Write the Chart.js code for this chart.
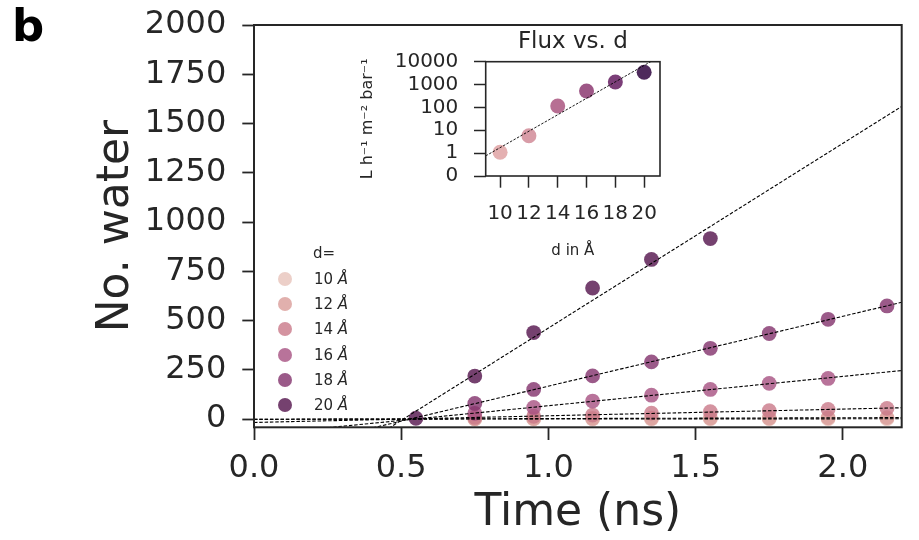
<!DOCTYPE html>
<html>
<head>
<meta charset="utf-8">
<script src="https://cdn.jsdelivr.net/npm/chart.js@4.4.1/dist/chart.umd.min.js"></script>
<style>
html,body{margin:0;padding:0;background:#fff;}
#wrap{position:relative;width:919px;height:540px;overflow:hidden;font-family:"DejaVu Sans",sans-serif;color:#262626;background:#fff;}
#main{position:absolute;left:0;top:0;}
#inset{position:absolute;left:340px;top:20px;}
#panel{position:absolute;left:12px;top:3px;font:bold 45px/45px "DejaVu Sans",sans-serif;color:#000;}
.lg{position:absolute;font:15px/18px "DejaVu Sans",sans-serif;color:#262626;white-space:nowrap;}
.dot{position:absolute;width:14px;height:14px;border-radius:50%;}
</style>
</head>
<body>
<div id="wrap">
  <canvas id="main" width="919" height="540"></canvas>
  <canvas id="inset" width="340" height="250"></canvas>
  <div id="panel">b</div>
  <div id="legend"></div>
</div>
<script>
// ---------------- data ----------------
const times = [0.55, 0.75, 0.95, 1.15, 1.35, 1.55, 1.75, 1.95, 2.15];
const poreSizes = [10, 12, 14, 16, 18, 20];
const water10 = [null, 0, 0, 0, 0, 1, 1, 1, 1];
const water12 = [null, 1, 2, 3, 4, 5, 5, 6, 7];
const water14 = [null, 8, 14, 20, 30, 37, 42, 49, 54];
const water16 = [null, 29, 59, 91, 121, 150, 181, 206, null];
const water18 = [null, 79, 150, 219, 290, 359, 434, 506, 574];
const water20 = [4, 218, 439, 665, 810, 916, null, null, null];
const waterTicks = [0, 250, 500, 750, 1000, 1250, 1500, 1750, 2000];
const timeTicks = [0, 0.5, 1.0, 1.5, 2.0];
const timeRange = [0, 2.2];
const waterRange = [-42, 2000];

const flux = [1.1, 5.8, 115, 525, 1290, 3450];
const fluxTicks = [0, 1, 10, 100, 1000, 10000];
const dTicks = [10, 12, 14, 16, 18, 20];
const dRange = [9, 21.1];

// ---------------- styles ----------------
const mainColors = ['rgba(231,195,186,0.8)','rgba(217,156,153,0.8)','rgba(201,120,136,0.8)',
                    'rgba(166,80,129,0.8)','rgba(130,49,107,0.8)','rgba(82,18,75,0.8)'];
const insetColors = ['#e4b0b1','#d89ca7','#b76f93','#9d5686','#7b3e78','#4e2a5c'];
const INK = '#262626';

Chart.defaults.font.family = '"DejaVu Sans", sans-serif';
Chart.defaults.color = INK;
Chart.defaults.animation = false;

const series = [water10, water12, water14, water16, water18, water20];

function fit(xs, ys) {
  const n = xs.length;
  const mx = xs.reduce((a, b) => a + b, 0) / n;
  const my = ys.reduce((a, b) => a + b, 0) / n;
  let sxy = 0, sxx = 0;
  for (let i = 0; i < n; i++) { sxy += (xs[i] - mx) * (ys[i] - my); sxx += (xs[i] - mx) ** 2; }
  const m = sxy / sxx;
  return { m, b: my - m * mx };
}
const symlog = v => (v < 1 ? v : 1 + Math.log10(v));
const noPad = s => { s.paddingTop = 0; s.paddingBottom = 0; s.paddingLeft = 0; s.paddingRight = 0; };

const frame = {
  id: 'frame',
  afterDatasetsDraw(c, args, opts) {
    const { ctx, chartArea: a } = c;
    ctx.save();
    ctx.strokeStyle = INK;
    ctx.lineWidth = opts.width;
    ctx.strokeRect(a.left, a.top, a.right - a.left, a.bottom - a.top);
    ctx.restore();
  }
};

// ---------------- main chart ----------------
const mainDatasets = [];
series.forEach((ys, i) => {
  const pts = [];
  times.forEach((t, j) => { if (ys[j] !== null) pts.push({ x: t, y: ys[j] }); });
  mainDatasets.push({
    label: poreSizes[i] + ' Å', data: pts, backgroundColor: mainColors[i],
    pointBackgroundColor: mainColors[i], pointBorderWidth: 0, pointRadius: 7.4,
    pointHoverRadius: 7.4, showLine: false, order: 10 - i
  });
  const f = fit(pts.map(p => p.x), pts.map(p => p.y));
  mainDatasets.push({
    label: 'fit ' + poreSizes[i],
    data: timeRange.map(x => ({ x, y: f.b + f.m * x })),
    showLine: true, borderColor: '#000', borderWidth: 1.1, borderDash: [3.5, 1.8],
    pointRadius: 0, fill: false, order: 0
  });
});

new Chart(document.getElementById('main'), {
  type: 'scatter',
  data: { datasets: mainDatasets },
  options: {
    responsive: false, animation: false,
    layout: { padding: { left: 0, top: 25, right: 17.3, bottom: 0 } },
    plugins: { legend: { display: false }, tooltip: { enabled: false }, frame: { width: 2 } },
    scales: {
      x: {
        type: 'linear', min: timeRange[0], max: timeRange[1],
        afterBuildTicks: s => { s.ticks = timeTicks.map(v => ({ value: v })); },
        afterFit: s => { s.height = 112.7; noPad(s); },
        ticks: { font: { size: 32 }, color: INK, padding: 9, maxRotation: 0, autoSkip: false, callback: v => Number(v).toFixed(1) },
        grid: { display: true, drawOnChartArea: false, drawTicks: true, tickLength: 12.7, tickColor: INK, tickWidth: 1.8 },
        border: { display: false },
        title: { display: true, text: 'Time (ns)', font: { size: 44 }, color: INK, padding: { top: 0, bottom: 0 } }
      },
      y: {
        type: 'linear', min: waterRange[0], max: waterRange[1],
        afterBuildTicks: s => { s.ticks = waterTicks.map(v => ({ value: v })); },
        afterFit: s => { s.width = 254; noPad(s); },
        ticks: { font: { size: 32 }, color: INK, padding: 16, autoSkip: false, callback: v => String(v) },
        grid: { display: true, drawOnChartArea: false, drawTicks: true, tickLength: 11.7, tickColor: INK, tickWidth: 1.8 },
        border: { display: false },
        title: { display: true, text: 'No. water', font: { size: 44 }, color: INK, padding: { top: 90, bottom: 0 } }
      }
    }
  },
  plugins: [frame]
});

// ---------------- inset ----------------
const insetPos = flux.map(symlog);
const insetDatasets = poreSizes.map((d, i) => ({
  label: d + ' Å', data: [{ x: d, y: insetPos[i] }],
  pointBackgroundColor: insetColors[i], backgroundColor: insetColors[i],
  pointBorderWidth: 0, pointRadius: 7.5, pointHoverRadius: 7.5, showLine: false, order: 1
}));
const fi = fit(poreSizes, insetPos);
insetDatasets.push({
  label: 'fit', data: dRange.map(x => ({ x, y: fi.b + fi.m * x })),
  showLine: true, borderColor: '#000', borderWidth: 0.9, borderDash: [2.5, 1.5],
  pointRadius: 0, fill: false, order: 0
});
const fluxTickPos = fluxTicks.map(symlog);

new Chart(document.getElementById('inset'), {
  type: 'scatter',
  data: { datasets: insetDatasets },
  options: {
    responsive: false, animation: false,
    layout: { padding: { left: 0, top: 0, right: 20, bottom: 0 } },
    plugins: {
      legend: { display: false }, tooltip: { enabled: false }, frame: { width: 1.6 },
      title: { display: true, text: 'Flux vs. d', fullSize: false, color: INK, font: { size: 23, weight: 'normal' }, padding: { top: 8.6, bottom: 5.5 } }
    },
    scales: {
      x: {
        type: 'linear', min: dRange[0], max: dRange[1],
        afterBuildTicks: s => { s.ticks = dTicks.map(v => ({ value: v })); },
        afterFit: s => { s.height = 94; noPad(s); },
        ticks: { font: { size: 20 }, color: INK, padding: 13.7, maxRotation: 0, autoSkip: false, callback: v => String(v) },
        grid: { display: true, drawOnChartArea: false, drawTicks: true, tickLength: 11.7, tickColor: INK, tickWidth: 1.5 },
        border: { display: false },
        title: { display: true, text: 'd in Å', font: { size: 15 }, color: INK, padding: { top: 0, bottom: 9.5 } }
      },
      y: {
        type: 'linear', min: fluxTickPos[0], max: fluxTickPos[fluxTickPos.length - 1],
        afterBuildTicks: s => { s.ticks = fluxTickPos.map(v => ({ value: v })); },
        afterFit: s => { s.width = 145.7; noPad(s); },
        ticks: { font: { size: 20 }, color: INK, padding: 15.7, autoSkip: false, callback: (v, i) => String(fluxTicks[i]) },
        grid: { display: true, drawOnChartArea: false, drawTicks: true, tickLength: 11.7, tickColor: INK, tickWidth: 1.5 },
        border: { display: false },
        title: { display: true, text: 'L h⁻¹ m⁻² bar⁻¹', font: { size: 16 }, color: INK, padding: { top: 18, bottom: 0 } }
      }
    }
  },
  plugins: [frame]
});

// ---------------- legend (HTML) ----------------
const lg = document.getElementById('legend');
const t = document.createElement('div');
t.className = 'lg'; t.textContent = 'd='; t.style.left = '313px'; t.style.top = (253 - 9) + 'px';
lg.appendChild(t);
poreSizes.forEach((d, i) => {
  const cy = 279 + 25.2 * i;
  const dot = document.createElement('div');
  dot.className = 'dot'; dot.style.background = mainColors[i];
  dot.style.left = (285 - 7) + 'px'; dot.style.top = (cy - 7) + 'px';
  lg.appendChild(dot);
  const lab = document.createElement('div');
  lab.className = 'lg'; lab.style.left = '314px'; lab.style.top = (cy - 9) + 'px';
  lab.appendChild(document.createTextNode(d + ' '));
  const it = document.createElement('i'); it.textContent = 'Å';
  lab.appendChild(it);
  lg.appendChild(lab);
});
</script>
</body>
</html>
